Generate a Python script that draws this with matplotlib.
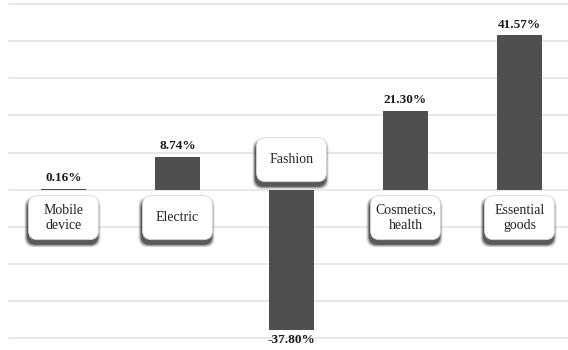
import matplotlib.pyplot as plt
from matplotlib.patches import FancyBboxPatch
from matplotlib.transforms import ScaledTranslation

categories = ['Mobile\ndevice', 'Electric', 'Fashion', 'Cosmetics,\nhealth', 'Essential\ngoods']
values = [0.16, 8.74, -37.80, 21.30, 41.57]
labels = ['0.16%', '8.74%', '-37.80%', '21.30%', '41.57%']
grid_ticks = [-40, -30, -20, -10, 0, 10, 20, 30, 40, 50]

plt.rcParams['font.family'] = ['Liberation Serif', 'DejaVu Serif']

fig = plt.figure(figsize=(5.68, 3.50), dpi=100)
ax = fig.add_axes([0, 0, 1, 1])
ax.set_xlim(-0.557, 4.425)
ax.set_ylim(-43.2, 51.1)
ax.axis('off')

# light gridlines
for t in grid_ticks:
    ax.axhline(t, xmin=0.016, xmax=1, color='#e4e4e4', lw=1.2, zorder=0)

x = range(len(values))
ax.bar(x, values, width=0.39, color='#4f4f4f', zorder=2)

for i, v in enumerate(values):
    if v >= 0:
        ax.annotate(labels[i], (i, v), xytext=(0, 3.5), textcoords='offset points',
                    ha='center', va='bottom', fontsize=9.5, fontweight='bold', color='#1a1a1a')
    else:
        ax.annotate(labels[i], (i, v), xytext=(0, -3), textcoords='offset points',
                    ha='center', va='top', fontsize=9.5, fontweight='bold', color='#1a1a1a')

# category label boxes with soft shadow
bw, bh = 0.70, 0.44  # inches
rs = 'round,pad=0,rounding_size=0.09'
for i, v in enumerate(values):
    if v >= 0:
        y0 = -0.06 - bh
    else:
        y0 = 0.08
    tr = fig.dpi_scale_trans + ScaledTranslation(i, 0, ax.transData)
    for k, a in enumerate([0.14, 0.22, 0.34, 0.5]):
        grow = 0.03 - k * 0.008
        sh = FancyBboxPatch((-bw / 2 - grow - 0.01, y0 - 0.045 - grow), bw + 2 * grow, bh + 2 * grow,
                            boxstyle=rs, transform=tr,
                            facecolor='#2c2c2c', edgecolor='none', alpha=a, zorder=3)
        ax.add_patch(sh)
    box = FancyBboxPatch((-bw / 2, y0), bw, bh, boxstyle=rs,
                         transform=tr, facecolor='white', edgecolor='#d5d5d5', lw=0.6, zorder=4)
    ax.add_patch(box)
    ax.text(0, y0 + bh / 2, categories[i], transform=tr, ha='center', va='center',
            fontsize=10, color='#222222', linespacing=1.2, zorder=5)

fig.savefig('out.png', dpi=100)
